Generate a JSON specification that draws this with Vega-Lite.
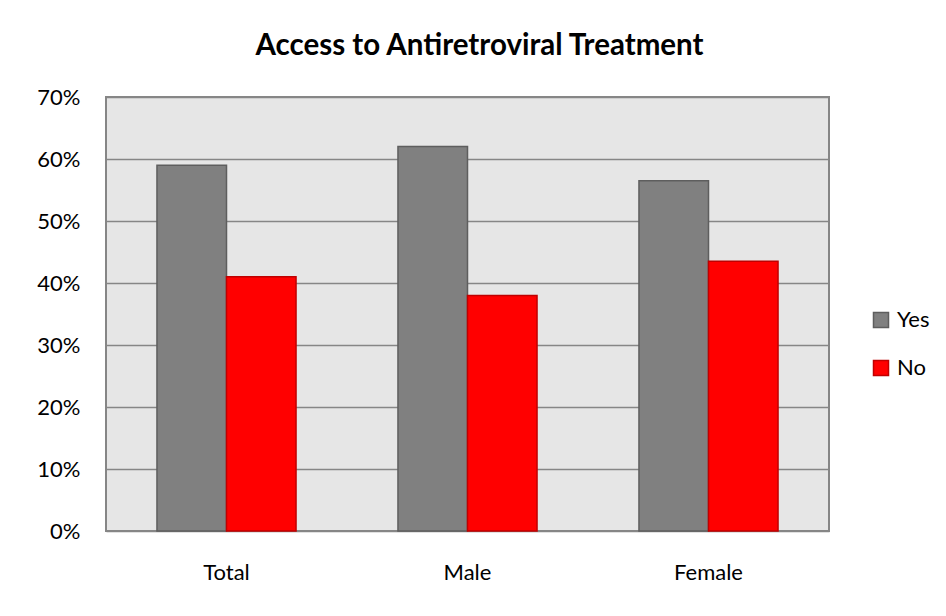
{
  "$schema": "https://vega.github.io/schema/vega-lite/v6.json",
  "width": 723,
  "height": 434,
  "autosize": {"type": "none"},
  "padding": {"left": 106, "top": 97, "right": 117, "bottom": 85},
  "background": "white",
  "title": {
    "text": "Access to Antiretroviral Treatment",
    "font": "Lato",
    "fontSize": 29.5,
    "fontWeight": "bold",
    "color": "#000000",
    "anchor": "middle",
    "dx": 12,
    "baseline": "alphabetic",
    "offset": 2
  },
  "data": {
    "values": [
      {"group": "Total", "answer": "Yes", "value": 0.59},
      {"group": "Total", "answer": "No", "value": 0.41},
      {"group": "Male", "answer": "Yes", "value": 0.62},
      {"group": "Male", "answer": "No", "value": 0.38},
      {"group": "Female", "answer": "Yes", "value": 0.565},
      {"group": "Female", "answer": "No", "value": 0.435}
    ]
  },
  "mark": {"type": "bar", "strokeWidth": 1.5},
  "encoding": {
    "x": {
      "field": "group",
      "type": "nominal",
      "sort": ["Total", "Male", "Female"],
      "scale": {"paddingInner": 0.423, "paddingOuter": 0.2115},
      "axis": {
        "title": null,
        "labelAngle": 0,
        "ticks": false,
        "domain": false,
        "labelFont": "Lato",
        "labelFontSize": 22,
        "labelColor": "#000000",
        "labelPadding": 31
      }
    },
    "xOffset": {
      "field": "answer",
      "type": "nominal",
      "sort": ["Yes", "No"],
      "scale": {"paddingInner": 0, "paddingOuter": 0}
    },
    "y": {
      "field": "value",
      "type": "quantitative",
      "scale": {"domain": [0, 0.7]},
      "axis": {
        "title": null,
        "format": ".0%",
        "values": [0, 0.1, 0.2, 0.3, 0.4, 0.5, 0.6, 0.7],
        "ticks": false,
        "domain": false,
        "grid": true,
        "gridColor": "#868686",
        "gridWidth": 1.5,
        "labelFont": "Lato",
        "labelFontSize": 22,
        "labelColor": "#000000",
        "labelPadding": 26
      }
    },
    "color": {
      "field": "answer",
      "type": "nominal",
      "sort": ["Yes", "No"],
      "scale": {"domain": ["Yes", "No"], "range": ["#808080", "#FF0000"]},
      "legend": {
        "title": null,
        "orient": "none",
        "legendX": 764,
        "legendY": 212,
        "symbolType": "square",
        "symbolSize": 225,
        "symbolStrokeWidth": 1.5,
        "labelFont": "Lato",
        "labelFontSize": 22,
        "labelColor": "#000000",
        "labelOffset": 5,
        "rowPadding": 26
      }
    },
    "stroke": {
      "field": "answer",
      "type": "nominal",
      "sort": ["Yes", "No"],
      "scale": {"domain": ["Yes", "No"], "range": ["#5E5E5E", "#C00000"]},
      "legend": {
        "title": null,
        "orient": "none",
        "legendX": 764,
        "legendY": 212,
        "symbolType": "square",
        "symbolSize": 225,
        "symbolStrokeWidth": 1.5,
        "labelFont": "Lato",
        "labelFontSize": 22,
        "labelColor": "#000000",
        "labelOffset": 5,
        "rowPadding": 26
      }
    }
  },
  "config": {
    "view": {"fill": "#E6E6E6", "stroke": "#868686", "strokeWidth": 2}
  }
}
